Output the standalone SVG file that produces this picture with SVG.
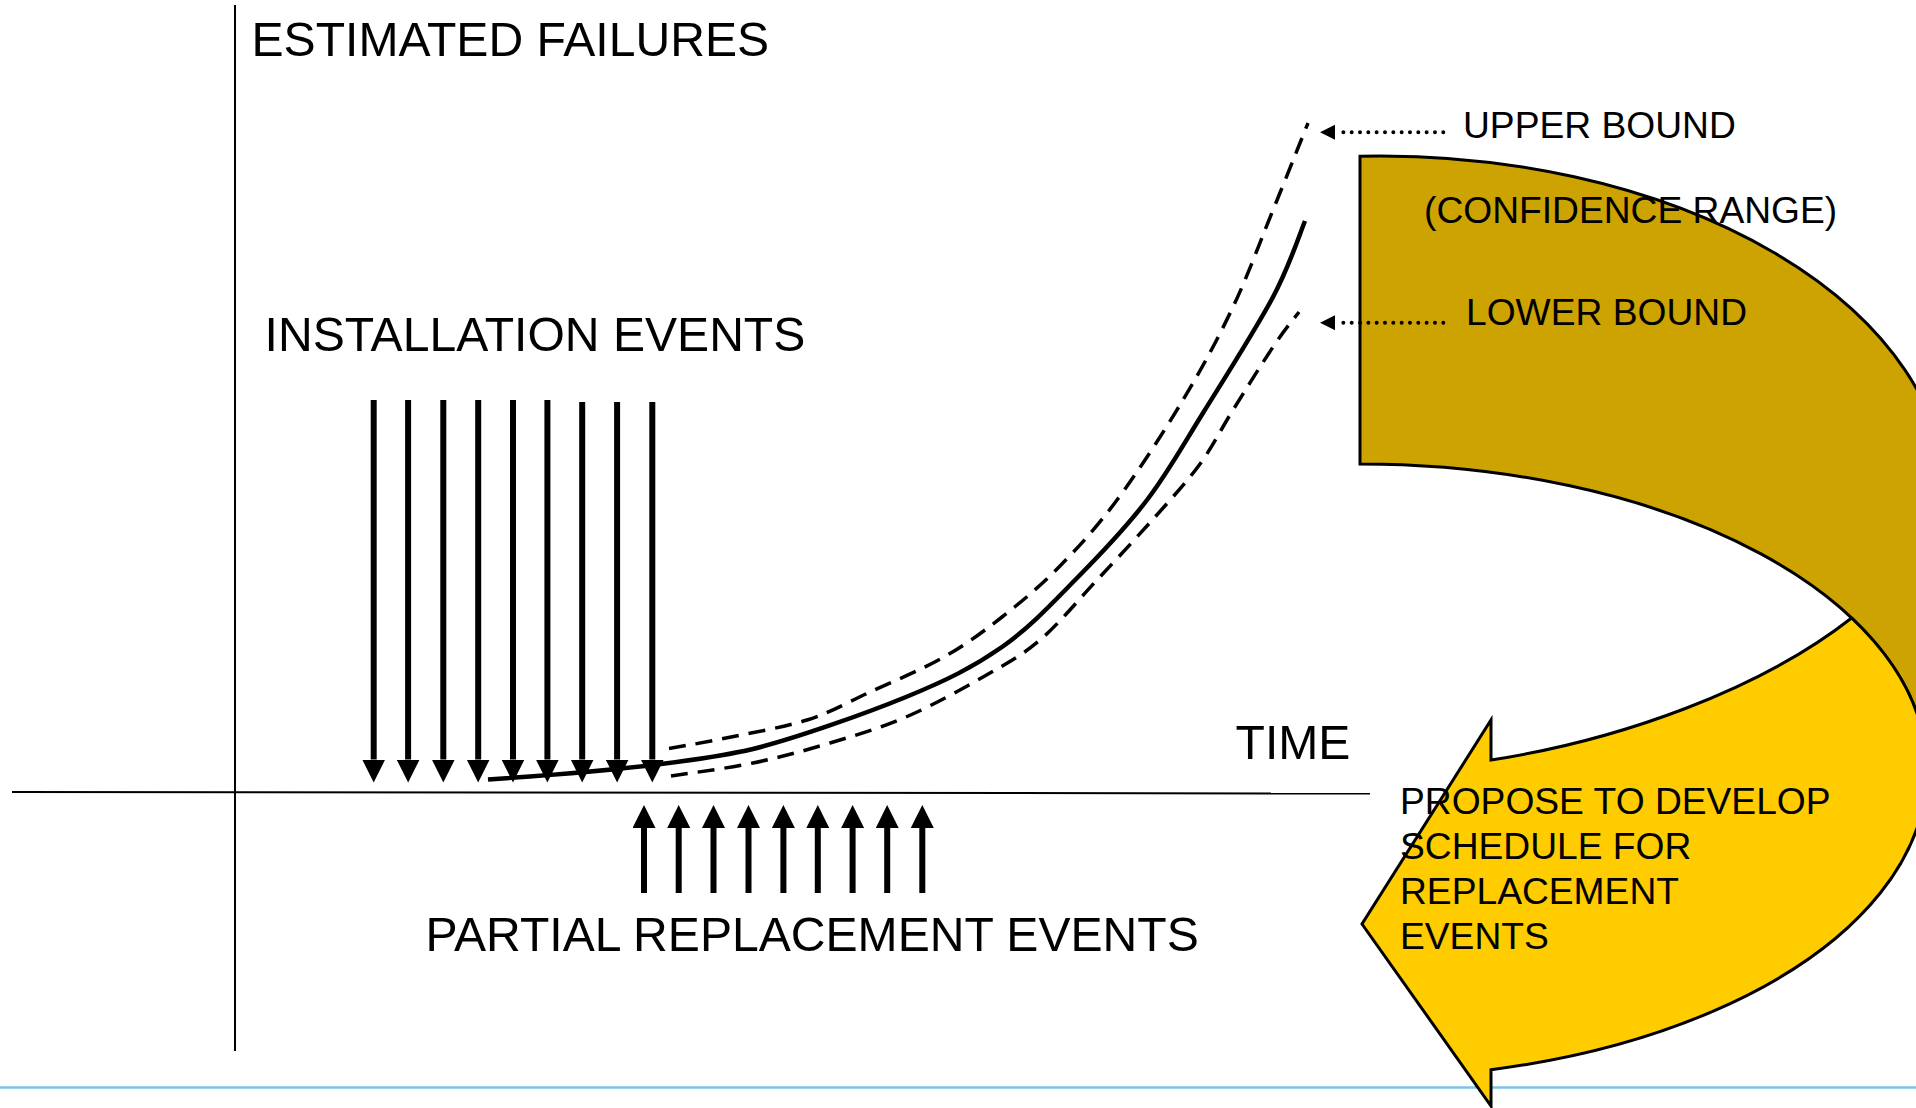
<svg xmlns="http://www.w3.org/2000/svg" width="1916" height="1108" viewBox="0 0 1916 1108">
<style>
  text { font-family: "Liberation Sans", Arial, sans-serif; fill: #000; }
  .big { font-size: 48.1px; }
  .small { font-size: 37.2px; }
  .axis { stroke: #000; stroke-width: 2; fill: none; }
  .ev { stroke: #000; stroke-width: 6; fill: none; }
  .solid { stroke: #000; stroke-width: 4.5; fill: none; stroke-linecap: butt; }
  .dash { stroke: #000; stroke-width: 3.5; fill: none; stroke-dasharray: 17 10; }
  .dots { stroke: #000; stroke-width: 4; fill: none; stroke-dasharray: 0 8.33; stroke-linecap: round; }
  .shape { stroke: #000; stroke-width: 3; stroke-linejoin: miter; }
</style>
<defs>
  <marker id="ah" markerUnits="userSpaceOnUse" markerWidth="23" markerHeight="23" viewBox="0 0 23 23" refX="0" refY="11.5" orient="auto">
    <path d="M0,0 L23,11.5 L0,23 Z" fill="#000"/>
  </marker>
  <marker id="ahs" markerUnits="userSpaceOnUse" markerWidth="30" markerHeight="16" viewBox="-10 0 30 16" refX="-8.3" refY="7.5" orient="auto">
    <path d="M0,0 L15,7.5 L0,15 Z" fill="#000"/>
  </marker>
</defs>
<rect width="1916" height="1108" fill="#fff"/>

<g id="axes">
  <line class="axis" x1="235" y1="5" x2="235" y2="1051"/>
  <line class="axis" x1="12" y1="792" x2="1370" y2="793.5"/>
  <line x1="0" y1="1087.5" x2="1916" y2="1087.5" stroke="#7DC3E8" stroke-width="2.5"/>
</g>

<g id="cycle-arrow">
  <path id="confidence-shape" class="shape" fill="#CCA300" d="M1360,156.2 A567,344 0 0,1 1947,500 L1960,500 L1960,771 L1927,771 A567,307 0 0,0 1360,464 Z"/>
  <path id="propose-shape" class="shape" fill="#FFCC00" d="M1851.6,618 A567,307 0 0,1 1491,1069.7 L1491,1106 L1362,924 L1491,720 L1491,760 C1620,740 1760,690 1851.6,618 Z"/>
</g>

<g id="connectors">
  <g id="installation-arrows">
    <line class="ev" x1="373.7" y1="400" x2="373.7" y2="759.5" marker-end="url(#ah)"/>
    <line class="ev" x1="408.1" y1="400" x2="408.1" y2="759.5" marker-end="url(#ah)"/>
    <line class="ev" x1="443.3" y1="400" x2="443.3" y2="759.5" marker-end="url(#ah)"/>
    <line class="ev" x1="478.2" y1="400" x2="478.2" y2="759.5" marker-end="url(#ah)"/>
    <line class="ev" x1="513" y1="400" x2="513" y2="759.5" marker-end="url(#ah)"/>
    <line class="ev" x1="547.4" y1="400" x2="547.4" y2="759.5" marker-end="url(#ah)"/>
    <line class="ev" x1="582.2" y1="402" x2="582.2" y2="759.5" marker-end="url(#ah)"/>
    <line class="ev" x1="617.1" y1="402" x2="617.1" y2="759.5" marker-end="url(#ah)"/>
    <line class="ev" x1="652.3" y1="402" x2="652.3" y2="759.5" marker-end="url(#ah)"/>
  </g>
  <g id="replacement-arrows">
    <line class="ev" x1="644" y1="893" x2="644" y2="828" marker-end="url(#ah)"/>
    <line class="ev" x1="678.7" y1="893" x2="678.7" y2="828" marker-end="url(#ah)"/>
    <line class="ev" x1="713.5" y1="893" x2="713.5" y2="828" marker-end="url(#ah)"/>
    <line class="ev" x1="748.5" y1="893" x2="748.5" y2="828" marker-end="url(#ah)"/>
    <line class="ev" x1="783.4" y1="893" x2="783.4" y2="828" marker-end="url(#ah)"/>
    <line class="ev" x1="817.8" y1="893" x2="817.8" y2="828" marker-end="url(#ah)"/>
    <line class="ev" x1="852.6" y1="893" x2="852.6" y2="828" marker-end="url(#ah)"/>
    <line class="ev" x1="887.2" y1="893" x2="887.2" y2="828" marker-end="url(#ah)"/>
    <line class="ev" x1="922.3" y1="893" x2="922.3" y2="828" marker-end="url(#ah)"/>
  </g>
  <path id="estimate-curve" class="solid" d="M488,779.5 C540,776 620,769 661,764 C700,759.2 725,755.5 753,749 C795,738.5 864.5,714 906,697 C947.5,680 973.3,667 1002,647 C1030.7,627 1053.8,601.5 1078,577 C1102.2,552.5 1126.2,527.3 1147,500 C1167.8,472.7 1182,446.8 1203,413 C1224,379.2 1256,329 1273,297 C1290,265 1299.7,233.7 1305,221"/>
  <path id="upper-bound-curve" class="dash" d="M669,748.5 C678.5,746.8 703,742.8 726,738 C749,733.3 783.3,727.5 807,720 C830.7,712.5 845.2,703.5 868,693 C890.8,682.5 921.7,669.7 944,657 C966.3,644.3 982.8,632 1002,617 C1021.2,602 1039.8,586.5 1059,567 C1078.2,547.5 1096.3,527.8 1117,500 C1137.7,472.2 1163.7,432.2 1183,400 C1202.3,367.8 1218,338.7 1233,307 C1248,275.3 1261.8,237.3 1273,210 C1284.2,182.7 1294.2,157.5 1300,143 C1305.8,128.5 1306.7,126.3 1308,123"/>
  <path id="lower-bound-curve" class="dash" d="M671,776 C684.7,773.8 726.5,768.5 753,763 C779.5,757.5 804.5,750.7 830,743 C855.5,735.3 880.5,728 906,717 C931.5,706 960.7,689.8 983,677 C1005.3,664.2 1021,656.2 1040,640 C1059,623.8 1077.8,600.5 1097,580 C1116.2,559.5 1137.8,536.3 1155,517 C1172.2,497.7 1187,481.8 1200,464 C1213,446.2 1220.8,429.5 1233,410 C1245.2,390.5 1262,363.3 1273,347 C1284,330.3 1294.7,317.8 1299,312"/>
  <line id="upper-pointer" class="dots" x1="1443.3" y1="132.3" x2="1343.3" y2="132.3" marker-end="url(#ahs)"/>
  <line id="lower-pointer" class="dots" x1="1443.3" y1="322.7" x2="1343.3" y2="322.7" marker-end="url(#ahs)"/>
</g>

<g id="label-estimated-failures"><text class="big" x="251.5" y="56">ESTIMATED FAILURES</text></g>
<g id="label-installation-events"><text class="big" x="264.6" y="351">INSTALLATION EVENTS</text></g>
<g id="label-partial-replacement"><text class="big" x="425.5" y="951">PARTIAL REPLACEMENT EVENTS</text></g>
<g id="label-time"><text class="big" x="1235.5" y="759">TIME</text></g>
<g id="label-upper-bound"><text class="small" x="1463" y="138">UPPER BOUND</text></g>
<g id="label-confidence"><text class="small" x="1424" y="223">(CONFIDENCE RANGE)</text></g>
<g id="label-lower-bound"><text class="small" x="1466" y="324.5">LOWER BOUND</text></g>
<g id="label-propose">
  <text class="small" x="1400" y="814">PROPOSE TO DEVELOP</text>
  <text class="small" x="1400" y="859">SCHEDULE FOR</text>
  <text class="small" x="1400" y="904">REPLACEMENT</text>
  <text class="small" x="1400" y="949">EVENTS</text>
</g>
</svg>
